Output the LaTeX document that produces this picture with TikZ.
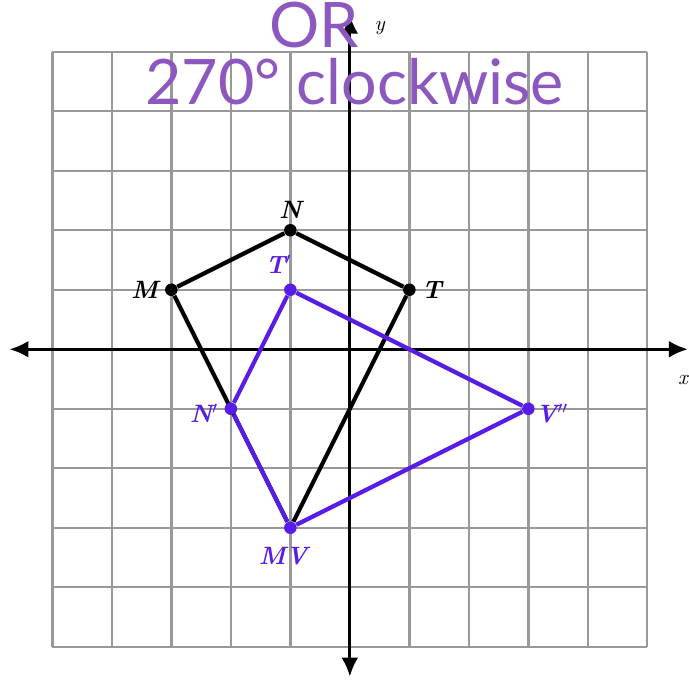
\documentclass[tikz,border=0pt]{standalone}
\usepackage{fontspec}
\usepackage{tikz}
\usetikzlibrary{arrows.meta}
\newfontfamily\handfont{Lato}
\definecolor{penpurple}{RGB}{140,88,192}
\definecolor{imgblue}{RGB}{88,28,232}

\begin{document}
\begin{tikzpicture}
 [pt node/.style={circle,fill,inner sep=0pt,minimum size=6pt},
  lbl node/.style={node distance=4.5mm,font=\bfseries\itshape\large},
  axis line/.style={line width=1.3pt,{Latex[length=9pt,width=8pt]}-{Latex[length=9pt,width=8pt]}},
  shape line/.style={line width=2pt,line join=round},
  hand text/.style={text=penpurple,font=\handfont\fontsize{30}{34}\selectfont}]

\useasboundingbox (-5.88,-5.66) rectangle (5.70,5.87);
\fill[white] (-5.88,-5.66) rectangle (5.70,5.87);

% grid and axes
\draw[gray!80,line width=1.1pt] (-5,-5) grid (5,5);
\coordinate (xl) at (-5.72,0);
\coordinate (xr) at (5.68,0);
\coordinate (yt) at (0,5.62);
\coordinate (yb) at (0,-5.5);
\draw[axis line] (xl) -- (xr);
\draw[axis line] (yb) -- (yt);
\node (xlab) at (5.6,-0.52) {\itshape x};
\node (ylab) at (0.5,5.4) {\itshape y};

% original figure
\node[pt node] (M) at (-3,1) {};
\node[pt node] (N) at (-1,2) {};
\node[pt node] (T) at (1,1) {};
\node[pt node,imgblue] (V) at (-1,-3) {};
\node[lbl node] (Ml) [left of=M] {M};
\node[lbl node] (Nl) [above of=N, node distance=3.5mm] {N};
\node[lbl node] (Tl) [right of=T, node distance=3.8mm] {T};
\draw[shape line] (M) -- (N) -- (T) -- (V) -- (M);

% image
\node[pt node,imgblue] (T1) at (-1,1) {};
\node[pt node,imgblue] (V1) at (3,-1) {};
\node[pt node,imgblue] (N1) at (-2,-1) {};
\node[lbl node,text=imgblue] (T1l) at (-1.2,1.42) {T$'$};
\node[lbl node,text=imgblue] (N1l) at (-2.45,-1.08) {N$'$};
\node[lbl node,text=imgblue] (V1l) at (3.4,-1.08) {V$''$};
\node[lbl node,text=imgblue] (MVl) at (-1.12,-3.47) {MV};
\draw[shape line,imgblue] (T1) -- (V1) -- (V) -- (N1) -- (T1);

% handwriting
\node[hand text] (rot) at (0.08,4.5) {270° clockwise};
\node[hand text] (or) at (-0.6,5.45) {OR};

\end{tikzpicture}
\end{document}
